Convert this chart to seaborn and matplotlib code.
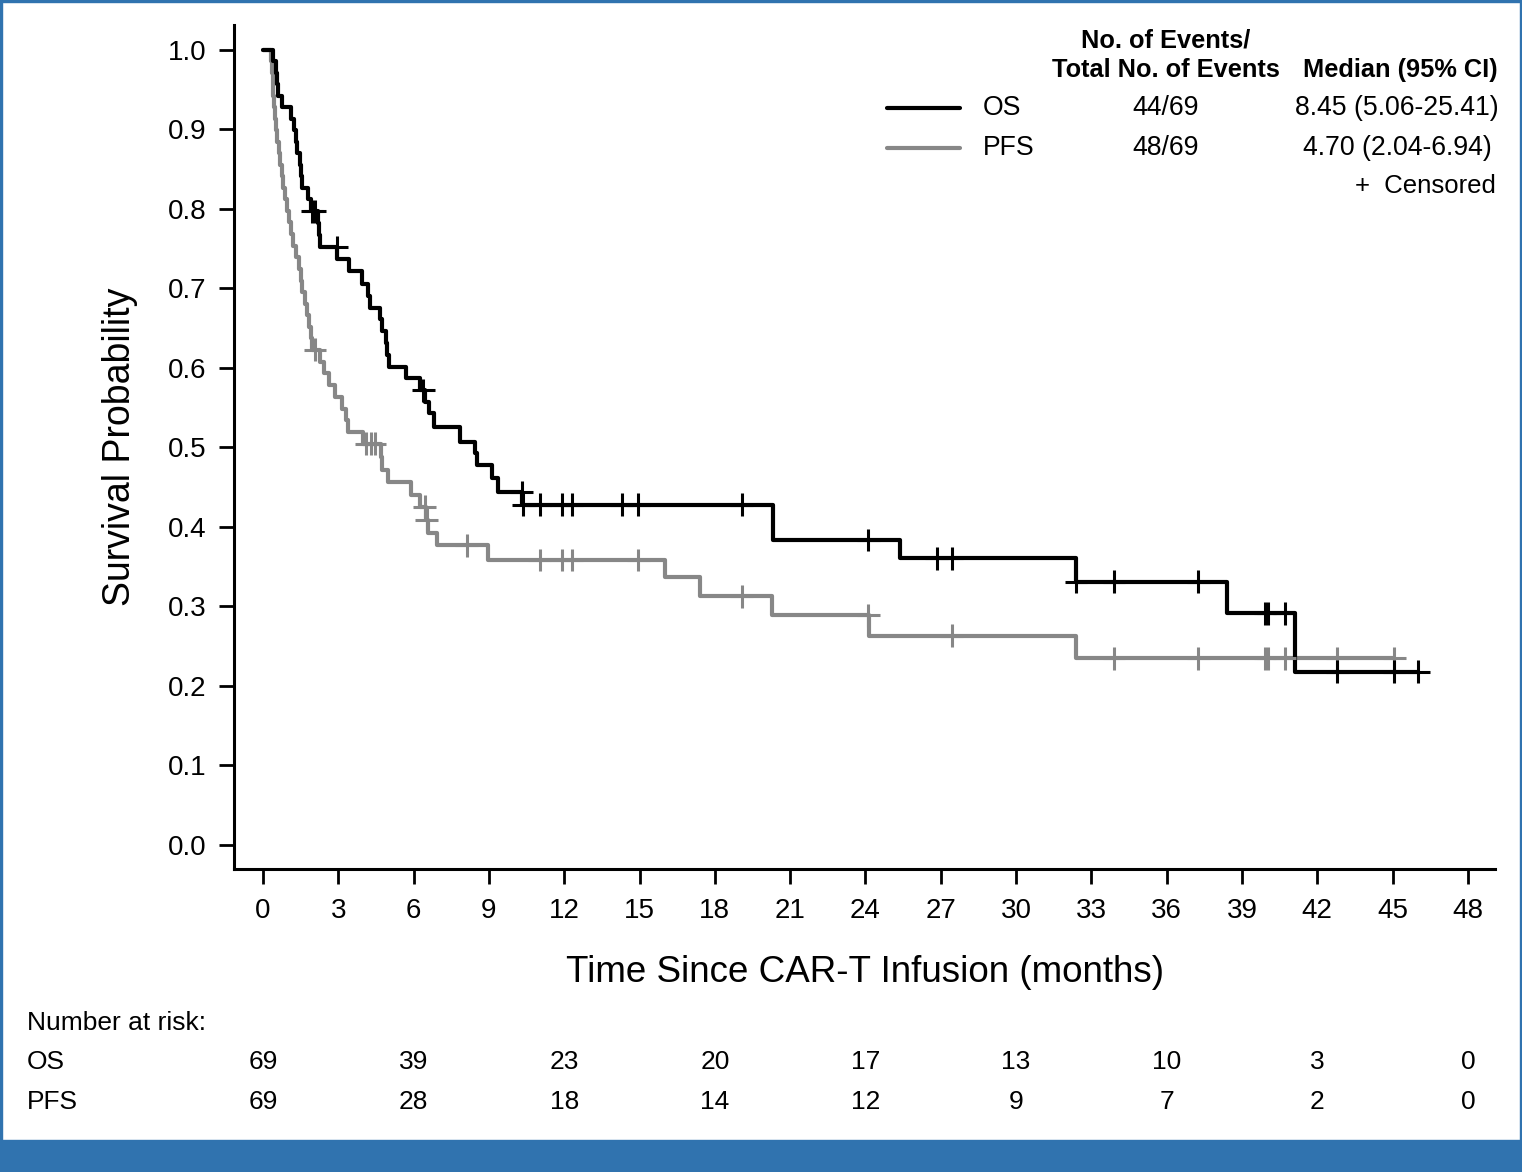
import numpy as np
import pandas as pd
import matplotlib
matplotlib.use("Agg")
import matplotlib.pyplot as plt
import seaborn as sns
from matplotlib.lines import Line2D
from matplotlib.patches import Rectangle
from matplotlib.transforms import blended_transform_factory

# ------------------ Data ------------------
# OS: event times (months) and survival right after each event
os_t = [0.41, 0.51, 0.57, 0.60, 0.75, 1.11, 1.22, 1.30, 1.36, 1.48, 1.52, 1.56, 1.78, 1.92,
        2.20, 2.24, 2.27, 2.95, 3.44, 3.93, 4.20, 4.26, 4.68, 4.73, 4.90, 4.96, 5.00, 5.70,
        6.25, 6.45, 6.60, 6.83, 7.85, 8.45, 8.51, 9.11, 9.37, 10.33, 20.30, 25.38, 32.37,
        38.39, 41.11]
os_s = [0.986, 0.971, 0.957, 0.942, 0.928, 0.913, 0.899, 0.884, 0.870, 0.855, 0.841, 0.826,
        0.812, 0.797, 0.782, 0.767, 0.752, 0.737, 0.722, 0.706, 0.691, 0.676, 0.661, 0.646,
        0.631, 0.616, 0.601, 0.587, 0.572, 0.557, 0.543, 0.526, 0.507, 0.493, 0.478, 0.461,
        0.444, 0.428, 0.3836, 0.3606, 0.331, 0.2914, 0.218]
os_cens = [1.95, 2.07, 2.93, 6.39, 10.30, 10.37, 11.03, 11.90, 12.30, 14.29, 14.95, 19.07,
           24.11, 26.84, 27.43, 32.39, 33.90, 37.26, 39.92, 40.05, 40.71, 42.80, 45.07, 46.02]

# PFS
pfs_t = [0.31, 0.34, 0.38, 0.41, 0.44, 0.47, 0.50, 0.56, 0.62, 0.68, 0.75, 0.81, 0.88, 0.96,
         1.04, 1.13, 1.21, 1.30, 1.42, 1.50, 1.56, 1.66, 1.74, 1.82, 1.90, 1.97,
         2.28, 2.45, 2.62, 2.87, 3.14, 3.30, 3.40, 3.98, 4.70, 4.75, 4.99, 5.88, 6.25, 6.48,
         6.59, 6.92, 8.98, 16.01, 17.41, 20.26, 24.13, 32.39]
pfs_s = [0.986, 0.971, 0.957, 0.942, 0.928, 0.913, 0.899, 0.884, 0.870, 0.855, 0.841, 0.826,
         0.812, 0.797, 0.783, 0.768, 0.754, 0.739, 0.725, 0.710, 0.696, 0.681, 0.667, 0.652,
         0.638, 0.623, 0.608, 0.594, 0.579, 0.564, 0.549, 0.534, 0.520, 0.505, 0.488, 0.472,
         0.456, 0.440, 0.4255, 0.409, 0.392, 0.377, 0.3585, 0.3365, 0.313, 0.289, 0.263,
         0.2346]
pfs_cens = [2.07, 4.10, 4.30, 4.45, 6.45, 6.52, 8.11, 11.03, 11.90, 12.30, 14.95, 19.07, 24.11,
            27.43, 33.90, 37.26, 39.92, 40.05, 40.71, 42.80, 45.07]

risk_times = [0, 6, 12, 18, 24, 30, 36, 42, 48]
os_risk = [69, 39, 23, 20, 17, 13, 10, 3, 0]
pfs_risk = [69, 28, 18, 14, 12, 9, 7, 2, 0]

events = {"OS": "44/69", "PFS": "48/69"}
medians = {"OS": "8.45 (5.06-25.41)", "PFS": "4.70 (2.04-6.94)"}

GRAY = "#878787"
BLUE = "#3073AF"
colors = {"OS": "black", "PFS": GRAY}


def km_frame(name, t, s, cens):
    times = [0.0] + list(t) + [max(cens)]
    surv = [1.0] + list(s) + [s[-1]]
    line = pd.DataFrame({"time": times, "surv": surv, "curve": name})
    # censor marks sit on the step at their time
    idx = np.searchsorted(np.array(t), np.array(cens), side="right") - 1
    cs = [1.0 if i < 0 else s[i] for i in idx]
    marks = pd.DataFrame({"time": cens, "surv": cs, "curve": name})
    return line, marks


os_line, os_marks = km_frame("OS", os_t, os_s, os_cens)
pfs_line, pfs_marks = km_frame("PFS", pfs_t, pfs_s, pfs_cens)
lines = pd.concat([pfs_line, os_line], ignore_index=True)
marks = pd.concat([pfs_marks, os_marks], ignore_index=True)

# ------------------ Plot ------------------
sns.set_theme(style="ticks")
plt.rcParams["font.family"] = ["Liberation Sans", "DejaVu Sans"]
plt.rcParams["text.color"] = "black"

W, H = 1522, 1172
fig = plt.figure(figsize=(W / 100, H / 100), dpi=100)
fig.patch.set_facecolor("white")
ax = fig.add_axes([234 / W, 1 - 869 / H, (1495 - 234) / W, (869 - 25) / H])

sns.lineplot(data=lines, x="time", y="surv", hue="curve", palette=colors,
             hue_order=["PFS", "OS"], drawstyle="steps-post", estimator=None,
             sort=False, linewidth=3.0, legend=False, ax=ax)
sns.scatterplot(data=marks, x="time", y="surv", hue="curve", palette=colors,
                hue_order=["PFS", "OS"], marker="+", s=270, linewidth=2.2,
                legend=False, ax=ax, zorder=3)

ax.set_xlim(-1.155, 49.08)
ax.set_ylim(-0.0302, 1.0314)
ax.set_xticks(np.arange(0, 49, 3))
ax.set_yticks(np.arange(0, 1.01, 0.1))
ax.set_yticklabels([f"{v:.1f}" for v in np.arange(0, 1.01, 0.1)])
sns.despine(ax=ax)
for sp in ["left", "bottom"]:
    ax.spines[sp].set_linewidth(2.2)
    ax.spines[sp].set_color("black")
ax.tick_params(axis="both", direction="out", length=11, width=2.0, color="black",
               labelsize=20, labelcolor="black")
ax.tick_params(axis="y", pad=9)
ax.tick_params(axis="x", pad=10)
ax.grid(False)

ax.set_xlabel("Time Since CAR-T Infusion (months)", fontsize=26.5, color="black")
ax.set_ylabel("Survival Probability", fontsize=27, color="black")
ax.xaxis.label.set_va("center")
ax.yaxis.label.set_va("center")
ax.xaxis.set_label_coords(0.5, (869 - 973) / 844)
ax.yaxis.set_label_coords((120 - 234) / 1261, (869 - 447) / 844)

# ------------------ Legend table ------------------
def fx(px):
    return px / W


def fy(py):
    return 1 - py / H


hdr = dict(fontsize=18.3, fontweight="bold", color="black", va="center")
fig.text(fx(1166), fy(40), "No. of Events/", ha="center", **hdr)
fig.text(fx(1166), fy(70), "Total No. of Events", ha="center", **hdr)
fig.text(fx(1400), fy(70), "Median (95% CI)", ha="center", **hdr)

for name, py in [("OS", 108), ("PFS", 148)]:
    fig.add_artist(Line2D([fx(887), fx(960)], [fy(py), fy(py)], color=colors[name],
                          linewidth=3.0, transform=fig.transFigure))
    fig.text(fx(983), fy(py), name, fontsize=19.2, va="center", ha="left")
    fig.text(fx(1166), fy(py), events[name], fontsize=19.2, va="center", ha="center")
    fig.text(fx(1397), fy(py), medians[name], fontsize=19.2, va="center", ha="center")
fig.text(fx(1496), fy(186), "+  Censored", fontsize=18.5, va="center", ha="right")

# ------------------ Number at risk ------------------
fig.text(fx(27), fy(1023), "Number at risk:", fontsize=19, va="center", ha="left")
fig.text(fx(27), fy(1062), "OS", fontsize=19, va="center", ha="left")
fig.text(fx(27), fy(1102), "PFS", fontsize=19, va="center", ha="left")
trans = blended_transform_factory(ax.transData, fig.transFigure)
for t, a, b in zip(risk_times, os_risk, pfs_risk):
    ax.text(t, fy(1062), str(a), transform=trans, fontsize=19, ha="center", va="center")
    ax.text(t, fy(1102), str(b), transform=trans, fontsize=19, ha="center", va="center")

# ------------------ Blue frame ------------------
fig.patches.extend([
    Rectangle((0, 0), 1, 32 / H, transform=fig.transFigure, color=BLUE, zorder=-1),
    Rectangle((0, 0), 2 / W, 1, transform=fig.transFigure, color=BLUE, zorder=-1),
    Rectangle((1 - 2 / W, 0), 2 / W, 1, transform=fig.transFigure, color=BLUE, zorder=-1),
    Rectangle((0, 1 - 2 / H), 1, 2 / H, transform=fig.transFigure, color=BLUE, zorder=-1),
])

fig.savefig("out.png", dpi=100)
